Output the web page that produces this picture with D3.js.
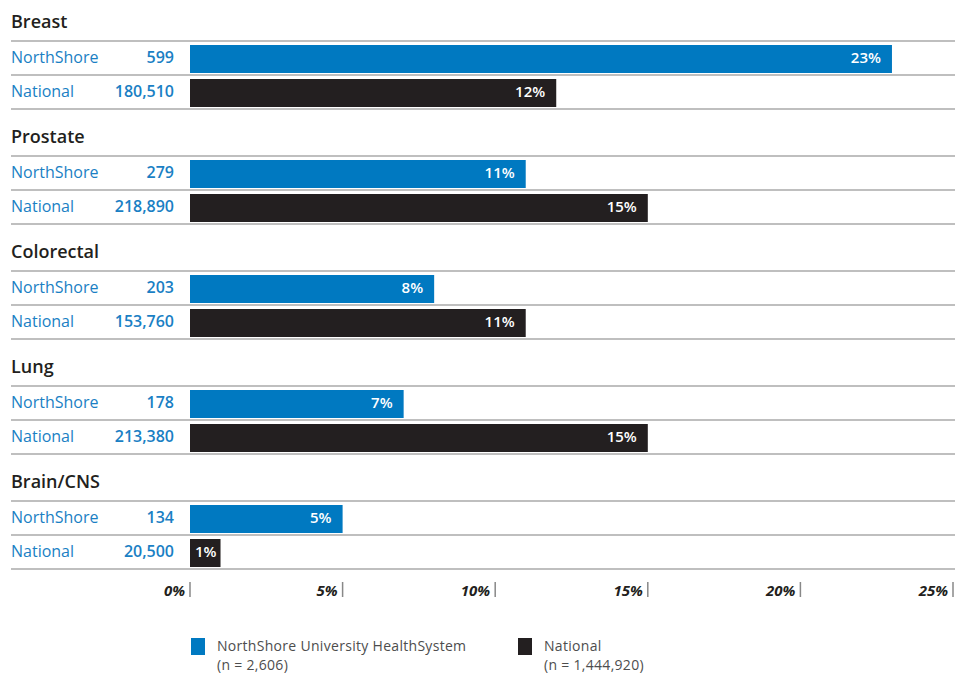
<!DOCTYPE html>
<html>
<head>
<meta charset="utf-8">
<script src="https://cdn.jsdelivr.net/npm/d3@7"></script>
<style>
body { margin: 0; background: #fff; }
text { font-family: "Open Sans", Lato, sans-serif; }
</style>
</head>
<body>
<div class="holder"></div>
<script>
var cancers = ['Breast', 'Prostate', 'Colorectal', 'Lung', 'Brain/CNS']
var series = ['NorthShore', 'National']
var counts = {
  NorthShore: ['599', '279', '203', '178', '134'],
  National: ['180,510', '218,890', '153,760', '213,380', '20,500']
}
var percents = {
  NorthShore: [23, 11, 8, 7, 5],
  National: [12, 15, 11, 15, 1]
}
var ticks = [0, 5, 10, 15, 20, 25]
var legendNames = ['NorthShore University HealthSystem', 'National']
var legendN = ['(n = 2,606)', '(n = 1,444,920)']

var width = 956, height = 674
var left = 11, right = 955
var blue = '#0079c1', black = '#231f20', dark = '#231f20', grey = '#aaaaaa'
var colors = { NorthShore: blue, National: black }

var svg = d3.select('.holder')
  .append('svg')
  .attr('width', width)
  .attr('height', height)

var x = d3.scaleLinear()
  .domain([0, 25])
  .range([190, 953])

// each group: title, then two rows
var groupY = d3.scaleBand()
  .domain(cancers)
  .range([41, 41 + 115 * 5])
  .paddingInner(0)

var rowY = d3.scaleBand()
  .domain(series)
  .range([0, 68])

cancers.forEach(function(c, ci) {
  var g = svg.append('g')
    .attr('transform', 'translate(0,' + groupY(c) + ')')

  g.append('text')
    .attr('x', left)
    .attr('y', -13)
    .attr('font-size', 18)
    .attr('font-weight', 600)
    .attr('fill', dark)
    .text(c)

  g.append('line')
    .attr('x1', left).attr('x2', right)
    .attr('y1', 0).attr('y2', 0)
    .attr('stroke', grey).attr('stroke-width', 1.5)

  series.forEach(function(s) {
    var y0 = rowY(s)
    var h = rowY.bandwidth()
    var p = percents[s][ci]

    g.append('text')
      .attr('x', left)
      .attr('y', y0 + h / 2 + 5)
      .attr('font-size', 16)
      .attr('fill', '#1a7fc4')
      .text(s)

    g.append('text')
      .attr('x', 174)
      .attr('y', y0 + h / 2 + 5)
      .attr('text-anchor', 'end')
      .attr('font-size', 16)
      .attr('font-weight', 600)
      .attr('fill', '#1a7fc4')
      .text(counts[s][ci])

    g.append('rect')
      .attr('x', x(0))
      .attr('y', y0 + 4)
      .attr('width', x(p) - x(0))
      .attr('height', h - 6)
      .attr('fill', colors[s])

    g.append('text')
      .attr('x', x(p) - (p < 2 ? 4 : 11))
      .attr('y', y0 + h / 2 + 5)
      .attr('text-anchor', 'end')
      .attr('font-size', 15)
      .attr('font-weight', 600)
      .attr('fill', '#fff')
      .text(p + '%')

    g.append('line')
      .attr('x1', left).attr('x2', right)
      .attr('y1', y0 + h).attr('y2', y0 + h)
      .attr('stroke', grey).attr('stroke-width', 1.5)
  })
})

// axis
var axis = svg.append('g')
ticks.forEach(function(t) {
  axis.append('line')
    .attr('x1', x(t)).attr('x2', x(t))
    .attr('y1', 582).attr('y2', 597)
    .attr('stroke', '#888').attr('stroke-width', 1.5)
  axis.append('text')
    .attr('x', x(t) - 5)
    .attr('y', 596)
    .attr('text-anchor', 'end')
    .attr('font-size', 15)
    .attr('font-weight', 'bold')
    .attr('font-style', 'italic')
    .attr('fill', dark)
    .text(t + '%')
})

// legend
var legendX = [191, 518]
legendNames.forEach(function(name, i) {
  svg.append('rect')
    .attr('x', legendX[i]).attr('y', 638)
    .attr('width', 14).attr('height', 17)
    .attr('fill', colors[series[i]])
  svg.append('text')
    .attr('x', legendX[i] + 26).attr('y', 651)
    .attr('font-size', 14)
    .attr('letter-spacing', 0.3)
    .attr('fill', '#4d4d4d')
    .text(name)
  svg.append('text')
    .attr('x', legendX[i] + 26).attr('y', 670)
    .attr('font-size', 14)
    .attr('letter-spacing', 0.3)
    .attr('fill', '#4d4d4d')
    .text(legendN[i])
})
</script>
</body>
</html>
